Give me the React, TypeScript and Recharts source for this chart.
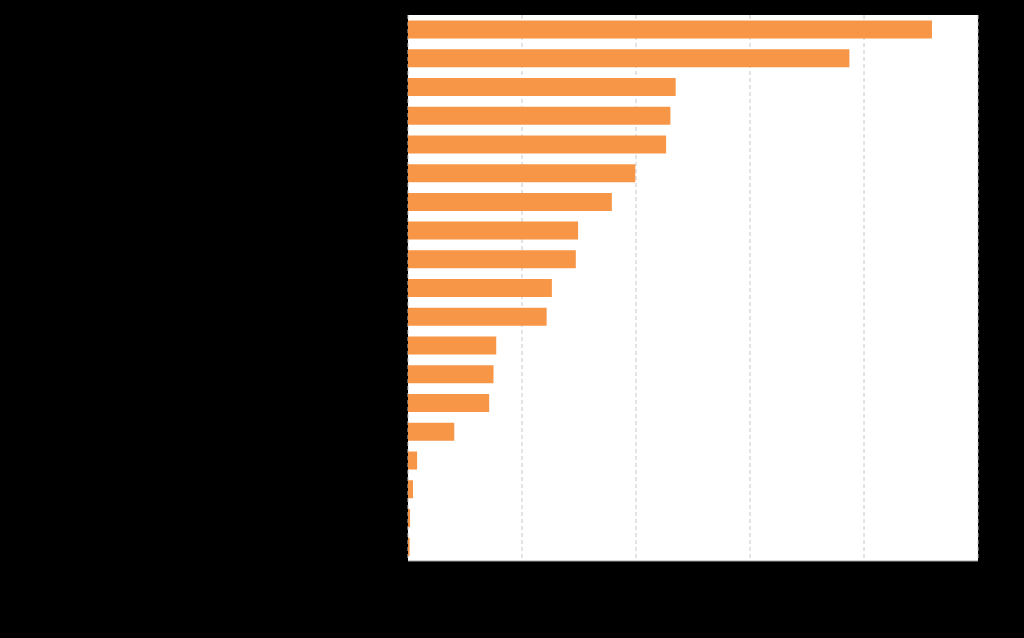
import { BarChart, Bar, XAxis, YAxis, CartesianGrid } from 'recharts';

// toimialat (TOL 2008), suurimmasta pienimpään
const categories = [
  'G Tukku- ja vähitt.; moottoriaj. korj.',
  'M Ammatill., tieteell. ja tekn. toim.',
  'L Kiinteistöalan toiminta',
  'F Rakentaminen',
  'Q Terveys- ja sosiaalipalvelut',
  'S Muu palvelutoiminta',
  'C Teollisuus',
  'I Majoitus- ja ravitsemistoiminta',
  'J Informaatio ja viestintä',
  'H Kuljetus ja varastointi',
  'N Hallinto- ja tukipalvelutoiminta',
  'A Maatalous, metsätalous, kalatalous',
  'R Taiteet, viihde ja virkistys',
  'K Rahoitus- ja vakuutustoiminta',
  'P Koulutus',
  'E Vesi, viem. jätevesi- ja jätehuolto',
  'D Sähkö-, kaasu-, lämpöhuolto, jäähd.',
  'B Kaivostoiminta ja louhinta',
  'X Toimiala tuntematon',
];

const counts = [
  2298, 1936, 1174, 1151, 1132, 997, 894, 746, 736, 631, 608, 387, 375, 356,
  203, 40, 22, 9, 7,
];

const xTicks = [0, 500, 1000, 1500, 2000, 2500];

const data = categories.map((name, i) => ({ name, value: counts[i] }));

const FONT = '"Liberation Sans", Arial, sans-serif';

const App = () => {
  return (
    <div style={{ width: 1024, height: 638, background: '#000' }}>
      <style>{`body { margin: 0; background: #000; }`}</style>
      <BarChart
        width={1024}
        height={638}
        data={data}
        layout="vertical"
        margin={{ top: 15, right: 46, bottom: 7, left: 0 }}
        barCategoryGap="19%"
      >
        <CartesianGrid
          horizontal={false}
          strokeDasharray="4 3"
          stroke="#c8c8c8"
          fill="#ffffff"
        />
        <XAxis
          type="number"
          domain={[0, 2500]}
          ticks={xTicks}
          interval={0}
          height={70}
          tickLine={false}
          tickSize={0}
          tickMargin={18}
          axisLine={{ stroke: '#a0a0a0' }}
          tick={{ fill: '#000', fontSize: 21, fontFamily: FONT }}
          label={{
            value: 'Toimipaikkojen lkm',
            position: 'insideBottom',
            offset: 5,
            fill: '#000',
            fontSize: 20,
            fontFamily: FONT,
          }}
        />
        <YAxis
          type="category"
          dataKey="name"
          width={408}
          interval={0}
          tickLine={false}
          tickSize={0}
          tickMargin={18}
          axisLine={false}
          tick={{ fill: '#000', fontSize: 21.5, fontFamily: FONT }}
        />
        <Bar dataKey="value" fill="#f79646" isAnimationActive={false} />
      </BarChart>
    </div>
  );
};

export default App;
